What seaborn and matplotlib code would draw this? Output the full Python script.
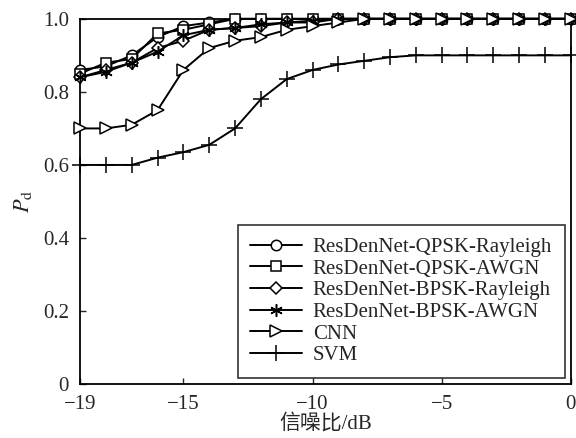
import numpy as np
import pandas as pd
import seaborn as sns
import matplotlib
matplotlib.use("Agg")
import matplotlib.pyplot as plt

snr = list(range(-19, 1))
qpsk_rayleigh = [0.86, 0.87, 0.90, 0.95, 0.98, 0.99, 1.0, 1.0, 1.0, 1.0,
                 1.0, 1.0, 1.0, 1.0, 1.0, 1.0, 1.0, 1.0, 1.0, 1.0]
qpsk_awgn = [0.85, 0.88, 0.89, 0.96, 0.97, 0.985, 1.0, 1.0, 1.0, 1.0,
             1.0, 1.0, 1.0, 1.0, 1.0, 1.0, 1.0, 1.0, 1.0, 1.0]
bpsk_rayleigh = [0.84, 0.86, 0.88, 0.92, 0.94, 0.97, 0.975, 0.98, 0.99, 0.99,
                 1.0, 1.0, 1.0, 1.0, 1.0, 1.0, 1.0, 1.0, 1.0, 1.0]
bpsk_awgn = [0.84, 0.855, 0.88, 0.91, 0.955, 0.97, 0.975, 0.985, 0.99, 0.995,
             1.0, 1.0, 1.0, 1.0, 1.0, 1.0, 1.0, 1.0, 1.0, 1.0]
cnn = [0.70, 0.70, 0.71, 0.75, 0.86, 0.92, 0.94, 0.95, 0.97, 0.98,
       0.99, 1.0, 1.0, 1.0, 1.0, 1.0, 1.0, 1.0, 1.0, 1.0]
svm = [0.60, 0.60, 0.60, 0.62, 0.635, 0.655, 0.70, 0.78, 0.835, 0.86,
       0.875, 0.885, 0.895, 0.90, 0.90, 0.90, 0.90, 0.90, 0.90, 0.90]

names = ['ResDenNet-QPSK-Rayleigh', 'ResDenNet-QPSK-AWGN', 'ResDenNet-BPSK-Rayleigh',
         'ResDenNet-BPSK-AWGN', 'CNN', 'SVM']
series = [qpsk_rayleigh, qpsk_awgn, bpsk_rayleigh, bpsk_awgn, cnn, svm]
marks = ['o', 's', 'D', (6, 2, 0), '>', '+']
msizes = [7.5, 7, 6, 9, 8.5, 11]

sns.set_theme(style="ticks")
plt.rcParams['font.family'] = ['Liberation Serif', 'Noto Sans CJK SC']
plt.rcParams['mathtext.fontset'] = 'stix'

fig, ax = plt.subplots(figsize=(5.76, 4.38), dpi=100)
for name, vals, m, ms in zip(names, series, marks, msizes):
    sns.lineplot(x=snr, y=vals, ax=ax, color='black', linewidth=1.4,
                 marker=m, markersize=ms, markerfacecolor='white',
                 markeredgecolor='black', markeredgewidth=1.1, label=name,
                 clip_on=False, zorder=3)

ax.set_xlim(-19, 0)
ax.set_ylim(0, 1.0)
ax.set_xticks([-19, -15, -10, -5, 0])
ax.set_xticklabels(['\u221219', '\u221215', '\u221210', '\u22125', '0'])
ax.set_yticks([0, 0.2, 0.4, 0.6, 0.8, 1.0])
ax.set_yticklabels(['0', '0.2', '0.4', '0.6', '0.8', '1.0'])
ax.tick_params(direction='in', length=4, width=1, labelsize=15, top=False, right=False)
ax.tick_params(axis='x', pad=8)
ax.tick_params(axis='y', pad=8)
for sp in ax.spines.values():
    sp.set_linewidth(1.3)
    sp.set_color('black')
ax.set_xlabel('信噪比/dB', fontsize=15, labelpad=0)
ax.set_ylabel('$P_\\mathrm{d}$', fontsize=16, labelpad=6)

leg = ax.legend(loc='lower right', fontsize=15, frameon=True, fancybox=False,
                edgecolor='black', handlelength=2.5, labelspacing=0.1,
                borderpad=0.6, handletextpad=0.5, borderaxespad=0.3)
leg.get_frame().set_linewidth(1.2)

fig.subplots_adjust(left=0.139, right=0.991, top=0.957, bottom=0.123)
fig.savefig('out.png', dpi=100)
